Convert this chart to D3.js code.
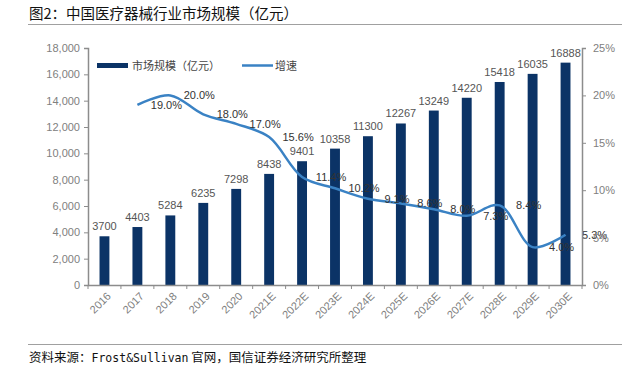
<!DOCTYPE html>
<html>
<head>
<meta charset="utf-8">
<script src="https://cdn.jsdelivr.net/npm/d3@7"></script>
<style>
  body { margin: 0; background: #fff; }
  text { font-family: "Liberation Sans", Arial, sans-serif; }
  .cjk { font-family: "Noto Sans CJK SC", sans-serif; }
</style>
</head>
<body>
<div id="chart"></div>
<script>
const width = 644;
const height = 372;

// Data
const years = ["2016", "2017", "2018", "2019", "2020", "2021E", "2022E", "2023E",
    "2024E", "2025E", "2026E", "2027E", "2028E", "2029E", "2030E"];
const marketSize = [3700, 4403, 5284, 6235, 7298, 8438, 9401, 10358,
    11300, 12267, 13249, 14220, 15418, 16035, 16888];
const growthYears = years.slice(1);
const growth = [19.0, 20.0, 18.0, 17.0, 15.6, 11.4, 10.2, 9.1, 8.6, 8.0, 7.3, 8.4, 4.0, 5.3];
const leftTicks = [0, 2000, 4000, 6000, 8000, 10000, 12000, 14000, 16000, 18000];
const rightTicks = [0, 5, 10, 15, 20, 25];

const margin = { top: 48, right: 62, bottom: 87, left: 88 };
const plotW = width - margin.left - margin.right;
const plotH = height - margin.top - margin.bottom;

const svg = d3.select("#chart")
    .append("svg")
    .attr("width", width)
    .attr("height", height);

// Title and rules
svg.append("text")
    .attr("class", "cjk")
    .attr("x", 29)
    .attr("y", 19)
    .style("font-size", "14.5px")
    .attr("fill", "#111")
    .text("图2：中国医疗器械行业市场规模（亿元）");

svg.append("line")
    .attr("x1", 28).attr("x2", 622)
    .attr("y1", 24.5).attr("y2", 24.5)
    .attr("stroke", "#a0a0a0").attr("stroke-width", 1.2);

svg.append("line")
    .attr("x1", 28).attr("x2", 622)
    .attr("y1", 344.5).attr("y2", 344.5)
    .attr("stroke", "#a0a0a0").attr("stroke-width", 1.2);

const source = svg.append("text")
    .attr("class", "cjk")
    .attr("x", 29)
    .attr("y", 362)
    .style("font-size", "12.5px")
    .attr("fill", "#111");
source.append("tspan").text("资料来源：");
source.append("tspan").style("font-family", "'DejaVu Sans Mono', monospace").style("font-size", "11.5px").text("Frost&Sullivan");
source.append("tspan").text(" 官网，国信证券经济研究所整理");

const g = svg.append("g")
    .attr("transform", `translate(${margin.left}, ${margin.top})`);

// Scales
const x = d3.scaleBand()
    .domain(years)
    .range([0, plotW])
    .paddingInner(0.7)
    .paddingOuter(0.35);

const step = plotW / years.length;

const yLeft = d3.scaleLinear()
    .domain([0, 18000])
    .range([plotH, 0]);

const yRight = d3.scaleLinear()
    .domain([0, 25])
    .range([plotH, 0]);

// Bars
g.selectAll("rect.bar")
    .data(marketSize)
    .enter()
    .append("rect")
    .attr("class", "bar")
    .attr("x", (d, i) => x(years[i]))
    .attr("y", d => yLeft(d))
    .attr("width", x.bandwidth())
    .attr("height", d => plotH - yLeft(d))
    .attr("fill", "#0b3366");

// Bar value labels
g.selectAll("text.val")
    .data(marketSize)
    .enter()
    .append("text")
    .attr("class", "val")
    .attr("x", (d, i) => x(years[i]) + x.bandwidth() / 2)
    .attr("y", d => yLeft(d) - 6)
    .attr("text-anchor", "middle")
    .style("font-size", "11px")
    .attr("fill", "#555")
    .text(d => d);

// Growth line
const cx = (yr) => x(yr) + x.bandwidth() / 2;
const line = d3.line()
    .x((d, i) => cx(growthYears[i]))
    .y(d => yRight(d))
    .curve(d3.curveCatmullRom.alpha(0.5));

g.append("path")
    .datum(growth)
    .attr("d", line)
    .attr("fill", "none")
    .attr("stroke", "#3a82c4")
    .attr("stroke-width", 2.5);

// Growth labels (sit one category to the right, as in the source)
g.selectAll("text.pct")
    .data(growth)
    .enter()
    .append("text")
    .attr("class", "pct")
    .attr("x", (d, i) => cx(growthYears[i]) + step * 0.88)
    .attr("y", d => yRight(d))
    .attr("dy", "0.35em")
    .attr("text-anchor", "middle")
    .style("font-size", "11px")
    .attr("fill", "#333")
    .text(d => d.toFixed(1) + "%");

// Axes
const axisColor = "#8c8c8c";

const leftAxis = g.append("g")
    .call(d3.axisLeft(yLeft).tickValues(leftTicks).tickSize(4).tickPadding(4)
        .tickFormat(d3.format(",")));

const rightAxis = g.append("g")
    .attr("transform", `translate(${plotW}, 0)`)
    .call(d3.axisRight(yRight).tickValues(rightTicks).tickSize(4).tickPadding(7)
        .tickFormat(d => d + "%"));

const bottomAxis = g.append("g")
    .attr("transform", `translate(0, ${plotH})`)
    .call(d3.axisBottom(x).tickSize(0).tickPadding(8));

// Category boundary ticks on the x axis
bottomAxis.selectAll("line.sep")
    .data(d3.range(years.length + 1))
    .enter()
    .append("line")
    .attr("class", "sep")
    .attr("x1", i => i * step).attr("x2", i => i * step)
    .attr("y1", 0).attr("y2", 4)
    .attr("stroke", axisColor);

bottomAxis.selectAll(".tick text")
    .attr("transform", "rotate(-45)")
    .attr("dx", "-0.3em")
    .attr("dy", "0.5em")
    .style("text-anchor", "end");

[leftAxis, rightAxis, bottomAxis].forEach(ax => {
    ax.select(".domain").attr("stroke", axisColor).attr("stroke-width", 1.5);
    ax.selectAll(".tick line").attr("stroke", axisColor);
    ax.selectAll(".tick text")
        .attr("fill", "#808080")
        .style("font-size", "11px")
        .style("font-family", "'Liberation Sans', Arial, sans-serif");
});

// Legend
const legend = svg.append("g");
legend.append("rect")
    .attr("x", 97).attr("y", 63)
    .attr("width", 31).attr("height", 5)
    .attr("fill", "#0b3366");
legend.append("text")
    .attr("class", "cjk")
    .attr("x", 132).attr("y", 69.5)
    .style("font-size", "11px")
    .attr("fill", "#444")
    .text("市场规模（亿元）");
legend.append("line")
    .attr("x1", 242).attr("x2", 273)
    .attr("y1", 65.5).attr("y2", 65.5)
    .attr("stroke", "#3a82c4").attr("stroke-width", 2.5);
legend.append("text")
    .attr("class", "cjk")
    .attr("x", 275).attr("y", 69.5)
    .style("font-size", "11px")
    .attr("fill", "#444")
    .text("增速");
</script>
</body>
</html>
